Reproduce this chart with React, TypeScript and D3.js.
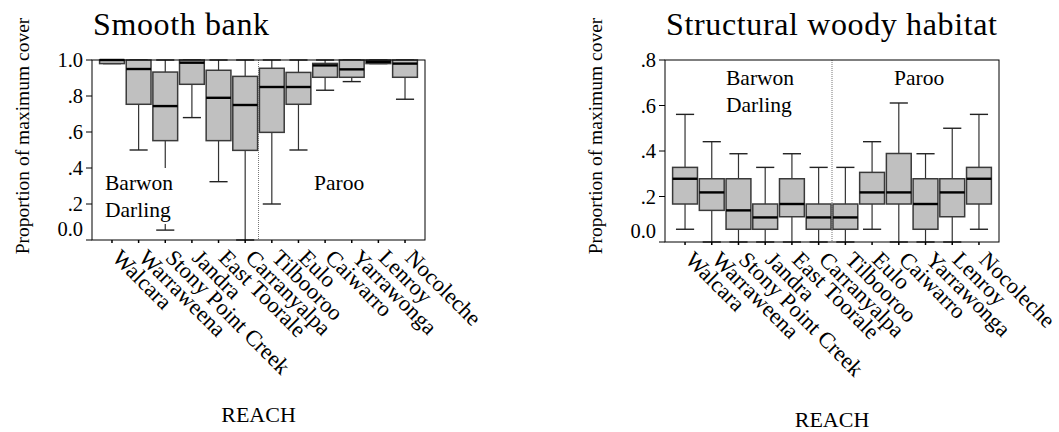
import React from "react";
import * as d3 from "d3";

// Reaches along the Barwon-Darling (first six) and the Paroo (last six)
const reaches = [
  "Walcara",
  "Warraweena",
  "Stony Point Creek",
  "Jandra",
  "East Toorale",
  "Carranyalpa",
  "Tilbooroo",
  "Eulo",
  "Caiwarro",
  "Yarrawonga",
  "Lenroy",
  "Nocoleche",
];

// Smooth bank: proportion of maximum cover (box-plot five-number summaries)
const smoothLow = [0.98, 0.5, 0.055, 0.68, 0.324, 0.0, 0.2, 0.5, 0.832, 0.88, 0.98, 0.782];
const smoothQ1 = [0.98, 0.754, 0.552, 0.865, 0.552, 0.498, 0.598, 0.754, 0.904, 0.904, 0.98, 0.904];
const smoothMedian = [1.0, 0.95, 0.744, 0.985, 0.79, 0.75, 0.85, 0.85, 0.97, 0.948, 0.99, 0.98];
const smoothQ3 = [1.0, 1.0, 0.933, 1.0, 0.943, 0.909, 0.954, 0.931, 0.981, 1.0, 1.0, 1.0];
const smoothHigh = [1.0, 1.0, 1.0, 1.0, 1.0, 1.0, 1.0, 1.0, 1.0, 1.0, 1.0, 1.0];

// Structural woody habitat: proportion of maximum cover
const woodyLow = [0.056, 0.0, 0.0, 0.0, 0.0, 0.0, 0.0, 0.056, 0.0, 0.0, 0.0, 0.056];
const woodyQ1 = [0.167, 0.139, 0.056, 0.056, 0.111, 0.056, 0.056, 0.167, 0.167, 0.056, 0.111, 0.167];
const woodyMedian = [0.278, 0.218, 0.139, 0.108, 0.167, 0.108, 0.108, 0.218, 0.218, 0.167, 0.218, 0.278];
const woodyQ3 = [0.328, 0.278, 0.278, 0.167, 0.278, 0.167, 0.167, 0.306, 0.389, 0.278, 0.278, 0.328];
const woodyHigh = [0.561, 0.441, 0.388, 0.328, 0.388, 0.328, 0.328, 0.441, 0.611, 0.388, 0.5, 0.561];

const smoothTicks = [0, 0.2, 0.4, 0.6, 0.8, 1.0];
const smoothTickLabels = ["0.0", ".2", ".4", ".6", ".8", "1.0"];
const woodyTicks = [0, 0.2, 0.4, 0.6, 0.8];
const woodyTickLabels = ["0.0", ".2", ".4", ".6", ".8"];

const FONT = "'Liberation Serif', 'Times New Roman', Times, serif";

type PanelProps = {
  title: string;
  titleLength: number;
  low: number[];
  q1: number[];
  median: number[];
  q3: number[];
  high: number[];
  ymax: number;
  ticks: number[];
  tickLabels: string[];
  left: number;
  right: number;
  top: number;
  bottom: number;
  groupA: { x: number; y: number; knockout?: [number, number, number, number] };
  groupB: { x: number; y: number };
  reachY: number;
};

function Panel(p: PanelProps) {
  const x = d3
    .scalePoint<string>()
    .domain(reaches)
    .range([p.left, p.right])
    .padding(0.75);
  const y = d3.scaleLinear().domain([0, p.ymax]).range([p.bottom, p.top]);
  const step = x.step();
  const boxW = step * 0.93;
  const capW = step * 0.68;
  const divider = ((x(reaches[5]) as number) + (x(reaches[6]) as number)) / 2;
  const midX = (p.left + p.right) / 2;

  return (
    <g>
      <text
        x={p.left + 1}
        y={35}
        fontFamily={FONT}
        fontSize={32}
        textLength={p.titleLength}
        lengthAdjust="spacing"
        fill="#000"
      >
        {p.title}
      </text>

      {/* Y axis title */}
      <text
        transform={`translate(${p.left - 63},${136}) rotate(-90)`}
        textAnchor="middle"
        fontFamily={FONT}
        fontSize={19.5}
        fill="#000"
      >
        Proportion of maximum cover
      </text>

      {/* boxes */}
      {reaches.map((r, i) => {
        const cx = x(r) as number;
        return (
          <g key={r}>
            <line x1={cx} x2={cx} y1={y(p.high[i])} y2={y(p.q3[i])} stroke="#333" strokeWidth={1.2} />
            <line x1={cx} x2={cx} y1={y(p.q1[i])} y2={y(p.low[i])} stroke="#333" strokeWidth={1.2} />
            <line x1={cx - capW / 2} x2={cx + capW / 2} y1={y(p.high[i])} y2={y(p.high[i])} stroke="#222" strokeWidth={1.4} />
            <line x1={cx - capW / 2} x2={cx + capW / 2} y1={y(p.low[i])} y2={y(p.low[i])} stroke="#222" strokeWidth={1.4} />
            <rect
              x={cx - boxW / 2}
              y={y(p.q3[i])}
              width={boxW}
              height={Math.max(0, y(p.q1[i]) - y(p.q3[i]))}
              fill="#c0c0c0"
              stroke="#3a3a3a"
              strokeWidth={1.5}
            />
            <line
              x1={cx - boxW / 2}
              x2={cx + boxW / 2}
              y1={y(p.median[i])}
              y2={y(p.median[i])}
              stroke="#000"
              strokeWidth={2.4}
            />
          </g>
        );
      })}

      {/* river group labels */}
      {p.groupA.knockout && (
        <rect
          x={p.groupA.knockout[0]}
          y={p.groupA.knockout[1]}
          width={p.groupA.knockout[2]}
          height={p.groupA.knockout[3]}
          fill="#fff"
        />
      )}
      <text x={p.groupA.x} y={p.groupA.y} fontFamily={FONT} fontSize={21.5} fill="#000">
        Barwon
      </text>
      <text x={p.groupA.x} y={p.groupA.y + 27} fontFamily={FONT} fontSize={21.5} fill="#000">
        Darling
      </text>
      <text x={p.groupB.x} y={p.groupB.y} fontFamily={FONT} fontSize={21.5} fill="#000">
        Paroo
      </text>

      {/* divider between rivers */}
      <line
        x1={divider}
        x2={divider}
        y1={p.top}
        y2={p.bottom}
        stroke="#777"
        strokeWidth={1}
        strokeDasharray="1,1"
      />

      {/* frame */}
      <rect
        x={p.left}
        y={p.top}
        width={p.right - p.left}
        height={p.bottom - p.top}
        fill="none"
        stroke="#000"
        strokeWidth={1}
      />

      {/* y ticks */}
      {p.ticks.map((t, i) => (
        <g key={t}>
          <line x1={p.left - 6} x2={p.left} y1={y(t)} y2={y(t)} stroke="#000" strokeWidth={1} />
          <text
            x={p.left - 9}
            y={(t === 0 ? y(t) - 11 : y(t)) + 7}
            textAnchor="end"
            fontFamily={FONT}
            fontSize={20.5}
            fill="#000"
          >
            {p.tickLabels[i]}
          </text>
        </g>
      ))}

      {/* x ticks and reach labels */}
      {reaches.map((r) => {
        const cx = x(r) as number;
        return (
          <g key={"t" + r}>
            <line x1={cx} x2={cx} y1={p.bottom} y2={p.bottom + 3} stroke="#000" strokeWidth={1.5} />
            <text
              transform={`translate(${cx - 1},${p.bottom + 19}) rotate(45)`}
              fontFamily={FONT}
              fontSize={22.5}
              fill="#000"
            >
              {r}
            </text>
          </g>
        );
      })}

      <text
        x={midX}
        y={p.reachY}
        textAnchor="middle"
        fontFamily={FONT}
        fontSize={22}
        fill="#000"
      >
        REACH
      </text>
    </g>
  );
}

export default function App() {
  return (
    <svg
      width={1059}
      height={432}
      viewBox="0 0 1059 432"
      style={{ position: "absolute", left: 0, top: 0, display: "block", background: "#fff" }}
    >
      <rect width={1059} height={432} fill="#fff" />
      <Panel
        title="Smooth bank"
        titleLength={176}
        low={smoothLow}
        q1={smoothQ1}
        median={smoothMedian}
        q3={smoothQ3}
        high={smoothHigh}
        ymax={1}
        ticks={smoothTicks}
        tickLabels={smoothTickLabels}
        left={92}
        right={425}
        top={60}
        bottom={240}
        groupA={{ x: 105, y: 190, knockout: [103, 168, 72, 56] }}
        groupB={{ x: 314, y: 190 }}
        reachY={422}
      />
      <Panel
        title="Structural woody habitat"
        titleLength={331}
        low={woodyLow}
        q1={woodyQ1}
        median={woodyMedian}
        q3={woodyQ3}
        high={woodyHigh}
        ymax={0.8}
        ticks={woodyTicks}
        tickLabels={woodyTickLabels}
        left={665}
        right={999}
        top={60}
        bottom={242}
        groupA={{ x: 726, y: 85 }}
        groupB={{ x: 894, y: 85 }}
        reachY={427}
      />
    </svg>
  );
}
